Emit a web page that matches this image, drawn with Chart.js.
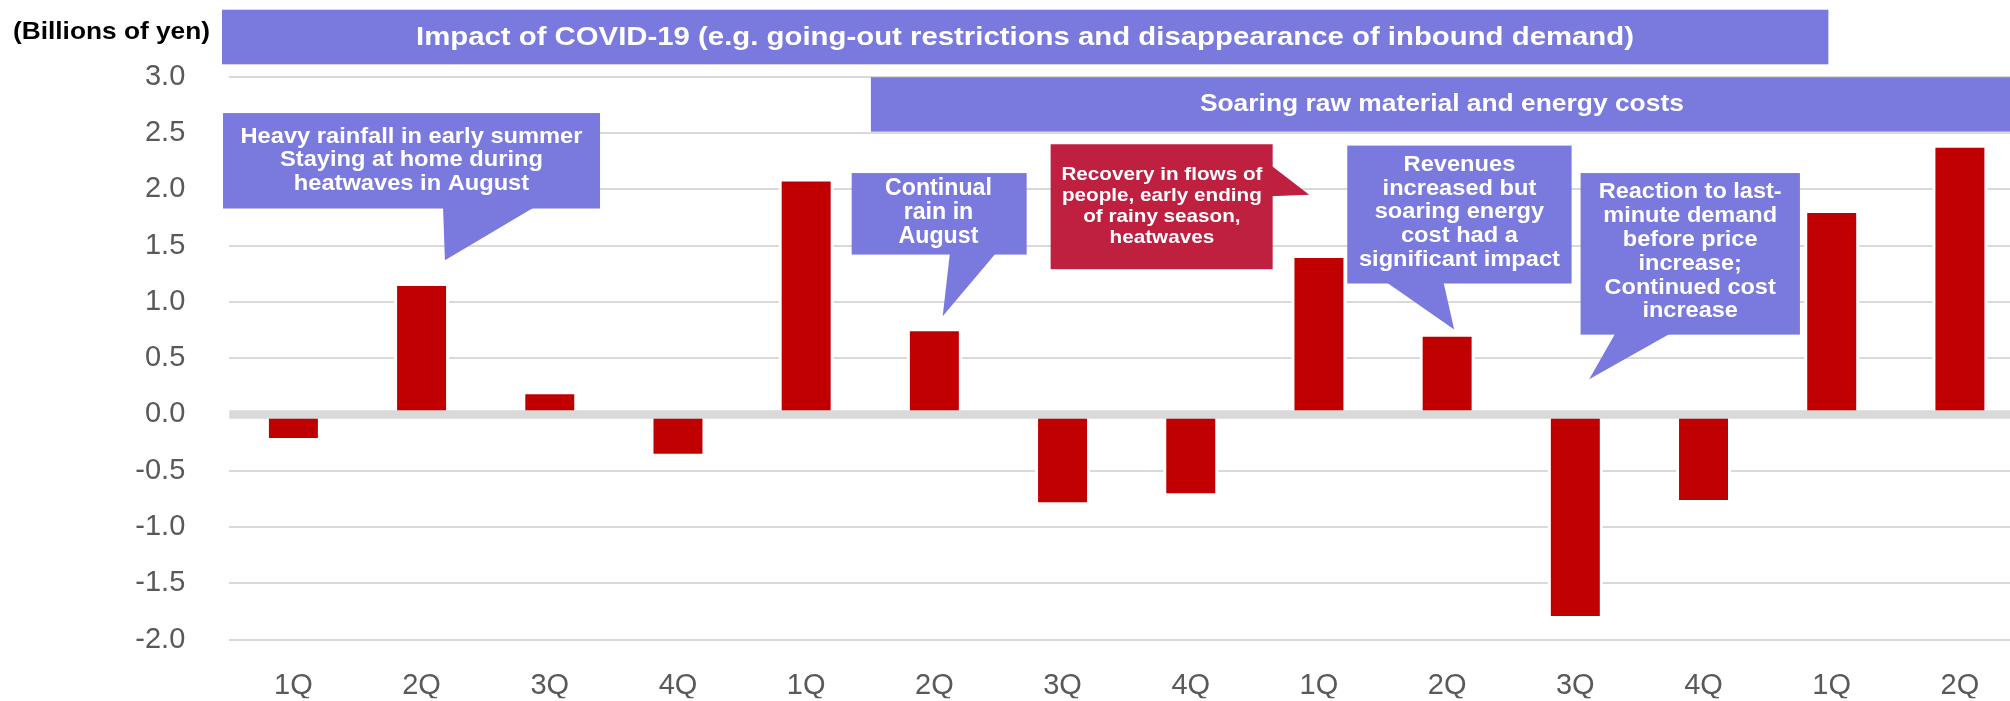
<!DOCTYPE html>
<html><head><meta charset="utf-8">
<script src="https://cdn.jsdelivr.net/npm/chart.js@4.4.1/dist/chart.umd.min.js"></script>
<style>
html,body{margin:0;padding:0;background:#fff;overflow:hidden;width:2010px;height:701px}
#wrap{position:absolute;left:0;top:0;width:2030px;height:701px}
</style></head>
<body><div id="wrap"><canvas id="c" width="2030" height="701"></canvas></div>
<script>
// ---- data ----
const categories = ['1Q','2Q','3Q','4Q','1Q','2Q','3Q','4Q','1Q','2Q','3Q','4Q','1Q','2Q'];
const impact = [-0.21, 1.14, 0.18, -0.35, 2.07, 0.74, -0.78, -0.70, 1.39, 0.69, -1.79, -0.76, 1.79, 2.37];
const yMin = -2.0, yMax = 3.0, yStep = 0.5;
const unitLabel = '(Billions of yen)';
const bannerTexts = [
  'Impact of COVID-19 (e.g. going-out restrictions and disappearance of inbound demand)',
  'Soaring raw material and energy costs'
];
const calloutTexts = [
  ['Heavy rainfall in early summer', 'Staying at home during', 'heatwaves in August'],
  ['Continual', 'rain in', 'August'],
  ['Recovery in flows of', 'people, early ending', 'of rainy season,', 'heatwaves'],
  ['Revenues', 'increased but', 'soaring energy', 'cost had a', 'significant impact'],
  ['Reaction to last-', 'minute demand', 'before price', 'increase;', 'Continued cost', 'increase']
];

// ---- styling / placement (category units from left edge, value units) ----
const FONT = '"Liberation Sans", Arial, sans-serif';
const BLUE = '#7a79de', RED_BOX = '#c02040', BAR = '#c00000', GRID = '#d9d9d9', TICK = '#595959';
const banners = [
  {x0: -0.057, x1: 12.474, v0: 3.595, v1: 3.11, tx: 6.207, tv: 3.345, size: 26, width: 1218},
  {x0: 5.005, x1: 14.2, v0: 2.995, v1: 2.512, tx: 9.459, tv: 2.750, size: 24, width: 484}
];
const callouts = [
  {x0: -0.049, x1: 2.892, v0: 2.677, v1: 1.829, color: BLUE,
   tail: [[1.667, 1.85], [2.392, 1.85], [1.682, 1.369]],
   tx: 1.421, tv: 2.467, step: 0.21, size: 22, ref: 0, width: 342},
  {x0: 4.855, x1: 6.220, v0: 2.144, v1: 1.420, color: BLUE,
   tail: [[5.622, 1.44], [5.986, 1.44], [5.565, 0.872]],
   tx: 5.532, tv: 2.003, step: 0.212, size: 23, ref: 0, width: 107},
  {x0: 6.407, x1: 8.139, v0: 2.400, v1: 1.290, color: RED_BOX,
   tail: [[8.12, 2.217], [8.424, 1.952], [8.12, 1.937]],
   tx: 7.275, tv: 2.129, step: 0.188, size: 19, ref: 0, width: 201},
  {x0: 8.721, x1: 10.471, v0: 2.388, v1: 1.163, color: BLUE,
   tail: [[9.015, 1.183], [9.470, 1.183], [9.555, 0.754]],
   tx: 9.596, tv: 2.217, step: 0.211, size: 22, ref: 4, width: 201},
  {x0: 10.541, x1: 12.252, v0: 2.144, v1: 0.709, color: BLUE,
   tail: [[10.817, 0.729], [11.259, 0.729], [10.608, 0.312]],
   tx: 11.396, tv: 1.973, step: 0.2115, size: 22, ref: 0, width: 183}
];

function P(chart, c, v) {
  const xs = chart.scales.x, ys = chart.scales.y;
  return [xs.left + c * (xs.width / categories.length), ys.getPixelForValue(v)];
}
function fitText(ctx, lines, cx, y0, step, size, refIdx, width) {
  ctx.font = 'bold ' + size + 'px ' + FONT;
  ctx.textAlign = 'center';
  ctx.textBaseline = 'middle';
  ctx.fillStyle = '#ffffff';
  const s = width / ctx.measureText(lines[refIdx]).width;
  lines.forEach((ln, i) => {
    ctx.save();
    ctx.translate(cx, y0 + i * step);
    ctx.scale(s, 1);
    ctx.fillText(ln, 0, 0);
    ctx.restore();
  });
}

const decor = {
  id: 'decor',
  beforeDatasetsDraw(chart) {
    const ctx = chart.ctx;
    ctx.save();
    ctx.fillStyle = '#ffffff';
    chart.getDatasetMeta(0).data.forEach(b => {
      const {x, y, base, width} = b.getProps(['x', 'y', 'base', 'width'], true);
      ctx.fillRect(x - width / 2 - 3, Math.min(y, base) - 2, width + 6, Math.abs(base - y) + 2);
    });
    ctx.restore();
  },
  afterDatasetsDraw(chart) {
    const ctx = chart.ctx, ca = chart.chartArea;
    const y0 = chart.scales.y.getPixelForValue(0);
    ctx.save();
    ctx.strokeStyle = GRID;
    ctx.lineWidth = 8.6;
    ctx.beginPath();
    ctx.moveTo(ca.left, y0);
    ctx.lineTo(ca.right, y0);
    ctx.stroke();
    ctx.restore();
  },
  afterDraw(chart) {
    const ctx = chart.ctx;
    ctx.save();
    // unit label
    const [ux, uy] = P(chart, -0.919, 3.395);
    ctx.font = 'bold 24px ' + FONT;
    ctx.textAlign = 'center';
    ctx.textBaseline = 'middle';
    ctx.fillStyle = '#000000';
    const us = 197 / ctx.measureText(unitLabel).width;
    ctx.save(); ctx.translate(ux, uy); ctx.scale(us, 1); ctx.fillText(unitLabel, 0, 0); ctx.restore();
    // banners
    banners.forEach((b, i) => {
      const [ax, ay] = P(chart, b.x0, b.v0);
      const [bx, by] = P(chart, b.x1, b.v1);
      ctx.fillStyle = BLUE;
      ctx.fillRect(ax, ay, bx - ax, by - ay);
      const [tx, ty] = P(chart, b.tx, b.tv);
      fitText(ctx, [bannerTexts[i]], tx, ty, 0, b.size, 0, b.width);
    });
    // callouts
    callouts.forEach((c, i) => {
      const [ax, ay] = P(chart, c.x0, c.v0);
      const [bx, by] = P(chart, c.x1, c.v1);
      ctx.fillStyle = c.color;
      ctx.fillRect(ax, ay, bx - ax, by - ay);
      ctx.beginPath();
      c.tail.forEach((pt, k) => {
        const [px, py] = P(chart, pt[0], pt[1]);
        if (k === 0) ctx.moveTo(px, py); else ctx.lineTo(px, py);
      });
      ctx.closePath();
      ctx.fill();
      const [tx, ty] = P(chart, c.tx, c.tv);
      const stepPx = chart.scales.y.getPixelForValue(0) - chart.scales.y.getPixelForValue(c.step);
      fitText(ctx, calloutTexts[i], tx, ty, stepPx, c.size, c.ref, c.width);
    });
    ctx.restore();
  }
};

new Chart(document.getElementById('c'), {
  type: 'bar',
  data: {
    labels: categories,
    datasets: [{data: impact, backgroundColor: BAR, borderWidth: 0,
                categoryPercentage: 1.0, barPercentage: 0.382}]
  },
  options: {
    responsive: false,
    animation: false,
    devicePixelRatio: 1,
    layout: {padding: {left: 0, right: 6, top: 76.7, bottom: 0}},
    plugins: {legend: {display: false}, tooltip: {enabled: false}, title: {display: false}},
    scales: {
      x: {
        grid: {display: false, drawTicks: false},
        border: {display: false},
        ticks: {color: TICK, font: {family: FONT, size: 29}, padding: 29, maxRotation: 0},
        afterFit(s) { s.height = 58.7; }
      },
      y: {
        min: yMin, max: yMax,
        grid: {color: GRID, lineWidth: ctx => (ctx.tick && ctx.tick.value === 0 ? 0 : 2), drawTicks: false},
        border: {display: false},
        ticks: {stepSize: yStep, color: TICK, font: {family: FONT, size: 29}, padding: 44,
                callback: v => Number(v).toFixed(1)},
        afterFit(s) { s.width = 229.3; }
      }
    }
  },
  plugins: [decor]
});
</script>
</body></html>
